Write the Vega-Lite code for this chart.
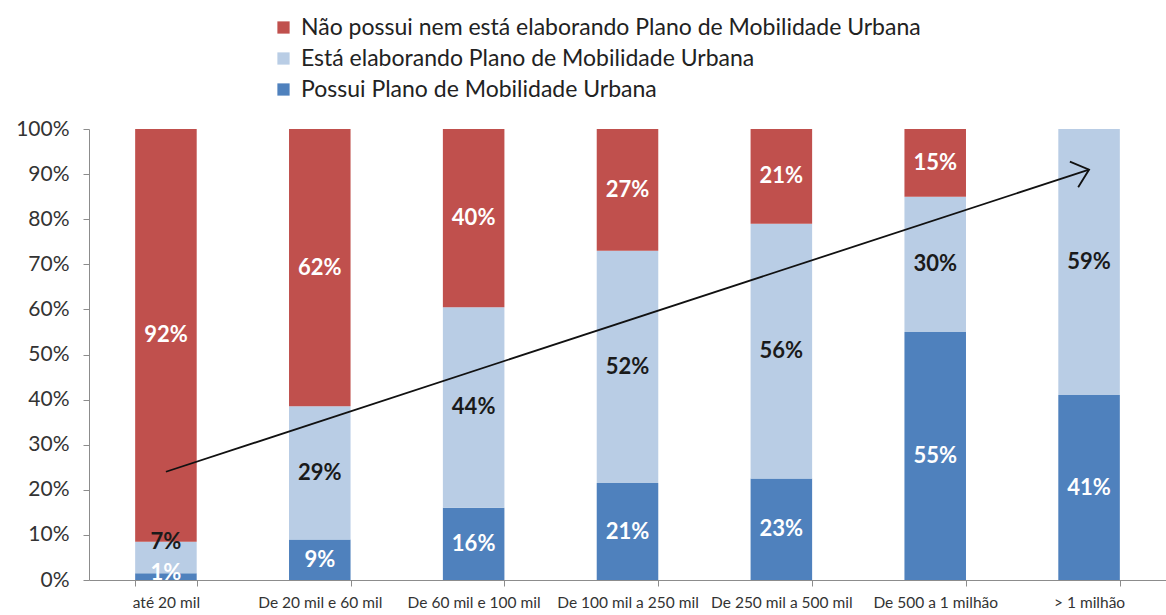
{
  "$schema": "https://vega.github.io/schema/vega-lite/v6.json",
  "autosize": {"type": "none"},
  "padding": {"left": 89, "top": 129, "right": 0, "bottom": 35},
  "width": 1077,
  "height": 451,
  "background": "white",
  "config": {"view": {"stroke": null}, "font": "Lato"},
  "datasets": {
    "barras": [
      {"cat": "até 20 mil", "status": "Possui Plano de Mobilidade Urbana", "valor": 1.5, "rotulo": "1%"},
      {"cat": "até 20 mil", "status": "Está elaborando Plano de Mobilidade Urbana", "valor": 7, "rotulo": "7%"},
      {"cat": "até 20 mil", "status": "Não possui nem está elaborando Plano de Mobilidade Urbana", "valor": 91.5, "rotulo": "92%"},
      {"cat": "De 20 mil e 60 mil", "status": "Possui Plano de Mobilidade Urbana", "valor": 9, "rotulo": "9%"},
      {"cat": "De 20 mil e 60 mil", "status": "Está elaborando Plano de Mobilidade Urbana", "valor": 29.5, "rotulo": "29%"},
      {"cat": "De 20 mil e 60 mil", "status": "Não possui nem está elaborando Plano de Mobilidade Urbana", "valor": 61.5, "rotulo": "62%"},
      {"cat": "De 60 mil e 100 mil", "status": "Possui Plano de Mobilidade Urbana", "valor": 16, "rotulo": "16%"},
      {"cat": "De 60 mil e 100 mil", "status": "Está elaborando Plano de Mobilidade Urbana", "valor": 44.5, "rotulo": "44%"},
      {"cat": "De 60 mil e 100 mil", "status": "Não possui nem está elaborando Plano de Mobilidade Urbana", "valor": 39.5, "rotulo": "40%"},
      {"cat": "De 100 mil a 250 mil", "status": "Possui Plano de Mobilidade Urbana", "valor": 21.5, "rotulo": "21%"},
      {"cat": "De 100 mil a 250 mil", "status": "Está elaborando Plano de Mobilidade Urbana", "valor": 51.5, "rotulo": "52%"},
      {"cat": "De 100 mil a 250 mil", "status": "Não possui nem está elaborando Plano de Mobilidade Urbana", "valor": 27, "rotulo": "27%"},
      {"cat": "De 250 mil a 500 mil", "status": "Possui Plano de Mobilidade Urbana", "valor": 22.5, "rotulo": "23%"},
      {"cat": "De 250 mil a 500 mil", "status": "Está elaborando Plano de Mobilidade Urbana", "valor": 56.5, "rotulo": "56%"},
      {"cat": "De 250 mil a 500 mil", "status": "Não possui nem está elaborando Plano de Mobilidade Urbana", "valor": 21, "rotulo": "21%"},
      {"cat": "De 500 a 1 milhão", "status": "Possui Plano de Mobilidade Urbana", "valor": 55, "rotulo": "55%"},
      {"cat": "De 500 a 1 milhão", "status": "Está elaborando Plano de Mobilidade Urbana", "valor": 30, "rotulo": "30%"},
      {"cat": "De 500 a 1 milhão", "status": "Não possui nem está elaborando Plano de Mobilidade Urbana", "valor": 15, "rotulo": "15%"},
      {"cat": "> 1 milhão", "status": "Possui Plano de Mobilidade Urbana", "valor": 41, "rotulo": "41%"},
      {"cat": "> 1 milhão", "status": "Está elaborando Plano de Mobilidade Urbana", "valor": 59, "rotulo": "59%"}
    ],
    "seta": [
      {"cat": "até 20 mil", "v": 24},
      {"cat": "> 1 milhão", "v": 91}
    ]
  },
  "layer": [
    {
      "data": {"name": "barras"},
      "transform": [
        {"calculate": "indexof(['Possui Plano de Mobilidade Urbana','Está elaborando Plano de Mobilidade Urbana','Não possui nem está elaborando Plano de Mobilidade Urbana'], datum.status)", "as": "ordem"},
        {"stack": "valor", "groupby": ["cat"], "sort": [{"field": "ordem", "order": "ascending"}], "as": ["y0", "y1"]},
        {"calculate": "datum.valor < 8 ? datum.y1 : (datum.y0 + datum.y1) / 2", "as": "meio"}
      ],
      "layer": [
        {
          "mark": {"type": "bar"},
          "encoding": {
            "x": {
              "field": "cat", "type": "nominal", "sort": null,
              "scale": {"paddingInner": 0.6, "paddingOuter": 0.3},
              "axis": {
                "title": null, "labelAngle": 0, "labelFontSize": 15.5, "labelColor": "#333",
                "labelFont": "Lato", "labelPadding": 9, "labelLimit": 200,
                "domainColor": "#8c8c8c", "tickColor": "#8c8c8c", "tickBand": "extent", "tickSize": 6
              }
            },
            "y": {
              "field": "y0", "type": "quantitative",
              "scale": {"domain": [0, 100], "nice": false},
              "axis": {
                "title": null, "values": [0, 10, 20, 30, 40, 50, 60, 70, 80, 90, 100],
                "labelExpr": "datum.value + '%'", "labelFontSize": 21, "labelColor": "#333",
                "labelFont": "Lato", "grid": false, "domainColor": "#8c8c8c", "tickColor": "#8c8c8c",
                "tickSize": 6, "labelPadding": 14
              }
            },
            "y2": {"field": "y1"},
            "color": {
              "field": "status", "type": "nominal",
              "scale": {
                "domain": ["Não possui nem está elaborando Plano de Mobilidade Urbana", "Está elaborando Plano de Mobilidade Urbana", "Possui Plano de Mobilidade Urbana"],
                "range": ["#C0504D", "#B9CDE5", "#4F81BD"]
              },
              "legend": {
                "title": null, "orient": "none", "legendX": 183, "legendY": -113,
                "symbolType": "square", "symbolSize": 150, "symbolStrokeWidth": 0,
                "labelFontSize": 23, "labelColor": "#222", "labelFont": "Lato",
                "rowPadding": 7, "labelOffset": 6, "labelLimit": 800
              }
            }
          }
        },
        {
          "mark": {"type": "text", "fontSize": 22, "fontWeight": "bold", "font": "Lato"},
          "encoding": {
            "x": {"field": "cat", "type": "nominal", "sort": null},
            "y": {"field": "meio", "type": "quantitative"},
            "text": {"field": "rotulo"},
            "color": {
              "condition": {"test": "datum.status == 'Está elaborando Plano de Mobilidade Urbana'", "value": "#1a1a1a"},
              "value": "#ffffff"
            }
          }
        }
      ]
    },
    {
      "data": {"name": "seta"},
      "layer": [
        {
          "mark": {"type": "line", "color": "#111", "strokeWidth": 1.8},
          "encoding": {
            "x": {"field": "cat", "type": "nominal", "sort": null},
            "y": {"field": "v", "type": "quantitative"}
          }
        },
        {
          "transform": [{"filter": "datum.cat == '> 1 milhão'"}],
          "mark": {"type": "point", "shape": "M -1 -0.85 L 0 0 L -1 0.85", "filled": false, "stroke": "#111", "strokeWidth": 1.8, "size": 1000, "angle": -18, "opacity": 1},
          "encoding": {
            "x": {"field": "cat", "type": "nominal", "sort": null},
            "y": {"field": "v", "type": "quantitative"}
          }
        }
      ]
    }
  ]
}
